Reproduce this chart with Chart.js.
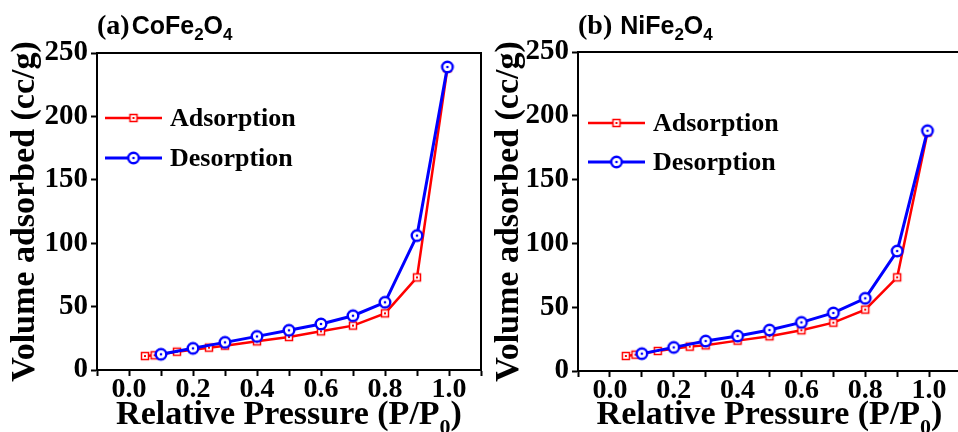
<!DOCTYPE html>
<html>
<head>
<meta charset="utf-8">
<script src="https://cdn.jsdelivr.net/npm/chart.js@4.4.1/dist/chart.umd.min.js"></script>
<style>
body { margin:0; width:958px; height:432px; overflow:hidden; background:#fff; position:relative; }
canvas { position:absolute; top:0; }
#chart1 { left:0; }
#chart2 { left:490px; }
</style>
</head>
<body>
<canvas id="chart1" width="490" height="432"></canvas>
<canvas id="chart2" width="480" height="432"></canvas>
<script>
// CoFe2O4 (a)
const pressureAdsCo = [0.05, 0.08, 0.15, 0.25, 0.3, 0.4, 0.5, 0.6, 0.7, 0.8, 0.9, 0.995];
const adsorptionCo  = [11.0, 11.6, 14.4, 17.6, 19.2, 22.6, 26.0, 30.5, 35.0, 44.7, 73.0, 238];
const pressureDesCo = [0.1, 0.2, 0.3, 0.4, 0.5, 0.6, 0.7, 0.8, 0.9, 0.995];
const desorptionCo  = [12.4, 17.1, 21.8, 26.5, 31.3, 36.3, 42.8, 53.4, 106, 239];

// NiFe2O4 (b)
const pressureAdsNi = [0.05, 0.08, 0.15, 0.25, 0.3, 0.4, 0.5, 0.6, 0.7, 0.8, 0.9, 0.995];
const adsorptionNi  = [11.8, 12.8, 15.7, 19.1, 20.1, 23.8, 27.2, 31.9, 37.9, 48.1, 73.4, 187];
const pressureDesNi = [0.1, 0.2, 0.3, 0.4, 0.5, 0.6, 0.7, 0.8, 0.9, 0.995];
const desorptionNi  = [13.6, 18.5, 23.5, 27.4, 32.1, 38.1, 45.5, 57.0, 94.0, 188.3];

const seriesNames = ['Adsorption', 'Desorption'];
const xTickLabels = [0, 0.2, 0.4, 0.6, 0.8, 1.0];
const yTickLabels = [0, 50, 100, 150, 200, 250];

const SERIF = '"Liberation Serif", "Times New Roman", serif';
const SANS = '"Liberation Sans", Arial, sans-serif';

Chart.defaults.font.family = SERIF;
Chart.defaults.font.weight = 'bold';
Chart.defaults.color = '#000';

function squareMarker(){
	const c = document.createElement('canvas');
	c.width = 12; c.height = 12;
	const g = c.getContext('2d');
	g.fillStyle = '#fff';
	g.fillRect(2.5, 2.5, 7, 7);
	g.strokeStyle = '#ff0000';
	g.lineWidth = 1.5;
	g.strokeRect(2.5, 2.5, 7, 7);
	g.fillStyle = '#ff0000';
	g.fillRect(5, 5, 2, 2);
	return c;
}

function circleMarker(){
	const c = document.createElement('canvas');
	c.width = 16; c.height = 16;
	const g = c.getContext('2d');
	g.beginPath();
	g.arc(8, 8, 5.3, 0, Math.PI * 2);
	g.fillStyle = '#fff';
	g.fill();
	g.strokeStyle = '#0000ff';
	g.lineWidth = 2.4;
	g.stroke();
	g.beginPath();
	g.arc(8, 8, 1.3, 0, Math.PI * 2);
	g.fillStyle = '#0000ff';
	g.fill();
	return c;
}

const redMark = squareMarker();
const blueMark = circleMarker();

function drawParts(ctx, parts, x, y, align){
	let w = 0;
	parts.forEach(p => { ctx.font = p.f; w += ctx.measureText(p.t).width + (p.gap || 0); });
	let cx = align == 'center' ? x - w / 2 : x;
	ctx.textAlign = 'left';
	ctx.textBaseline = 'alphabetic';
	ctx.fillStyle = '#000';
	parts.forEach(p => {
		cx += (p.gap || 0);
		ctx.font = p.f;
		ctx.fillText(p.t, cx, y + (p.dy || 0));
		cx += ctx.measureText(p.t).width;
	});
}

const xTitleParts = [
	{t: 'Relative Pressure (P/P', f: 'bold 34px ' + SERIF},
	{t: '0', f: 'bold 22px ' + SERIF, dy: 10},
	{t: ')', f: 'bold 34px ' + SERIF}
];

const panelDecor = {
	id: 'panelDecor',
	afterDraw(chart, args, opts){
		const ctx = chart.ctx, a = chart.chartArea;
		ctx.save();
		ctx.strokeStyle = '#000';
		ctx.lineWidth = 2;
		ctx.beginPath();
		ctx.moveTo(a.left, a.top);
		ctx.lineTo(a.right, a.top);
		ctx.lineTo(a.right, a.bottom);
		ctx.stroke();

		drawParts(ctx, opts.title, a.left, opts.titleY, 'left');
		drawParts(ctx, xTitleParts, (a.left + a.right) / 2, opts.xTitleY, 'center');

		chart.data.datasets.forEach((ds, i) => {
			const y = a.top + opts.legendY + i * opts.legendGap;
			const x0 = a.left + opts.legendX;
			ctx.strokeStyle = ds.borderColor;
			ctx.lineWidth = ds.borderWidth;
			ctx.beginPath();
			ctx.moveTo(x0, y);
			ctx.lineTo(x0 + 57, y);
			ctx.stroke();
			const img = ds.pointStyle;
			ctx.drawImage(img, x0 + 28.5 - img.width / 2, y - img.height / 2);
			ctx.fillStyle = '#000';
			ctx.font = 'bold 26px ' + SERIF;
			ctx.textBaseline = 'middle';
			ctx.textAlign = 'left';
			ctx.fillText(ds.label, x0 + 65, y + 1);
		});
		ctx.restore();
	}
};

function toPoints(xs, ys){
	return xs.map((x, i) => ({x: x, y: ys[i]}));
}

function createChart(id, adsX, adsY, desX, desY, cfg){
	return new Chart(document.getElementById(id), {
		type: 'line',
		data: {
			datasets: [{
				label: seriesNames[0],
				data: toPoints(adsX, adsY),
				borderColor: '#ff0000',
				borderWidth: 2.5,
				pointStyle: redMark,
				pointRadius: 5,
				order: 1
			}, {
				label: seriesNames[1],
				data: toPoints(desX, desY),
				borderColor: '#0000ff',
				borderWidth: 3,
				pointStyle: blueMark,
				pointRadius: 6,
				order: 0
			}]
		},
		options: {
			responsive: false,
			animation: false,
			events: [],
			layout: { padding: { top: cfg.top, right: 5, left: 0, bottom: 0 } },
			scales: {
				x: {
					type: 'linear',
					min: -0.1,
					max: 1.1,
					afterFit: s => { s.height = cfg.xAxisHeight; },
					ticks: {
						stepSize: 0.1,
						autoSkip: false,
						maxRotation: 0,
						padding: -3,
						font: { size: 28, weight: 'bold' },
						callback: v => xTickLabels.some(t => Math.abs(t - v) < 1e-6) ? v.toFixed(1) : ''
					},
					grid: { drawOnChartArea: false, tickLength: 6, tickWidth: 2, color: '#000' },
					border: { color: '#000', width: 2 }
				},
				y: {
					min: 0,
					max: 250,
					afterFit: s => { s.width = cfg.yAxisWidth; },
					ticks: {
						stepSize: 25,
						padding: 3,
						font: { size: 29, weight: 'bold' },
						callback: v => yTickLabels.includes(v) ? String(v) : ''
					},
					grid: { drawOnChartArea: false, tickLength: 6, tickWidth: 2, color: '#000' },
					border: { color: '#000', width: 2 },
					title: {
						display: true,
						text: 'Volume adsorbed (cc/g)',
						font: { size: 34, weight: 'bold' },
						padding: { top: cfg.yTitlePad, bottom: 0 }
					}
				}
			},
			plugins: {
				legend: { display: false },
				tooltip: { enabled: false },
				panelDecor: {
					title: cfg.title,
					titleY: 34,
					xTitleY: 424,
					legendX: cfg.legendX,
					legendY: cfg.legendY,
					legendGap: cfg.legendGap
				}
			}
		},
		plugins: [panelDecor]
	});
}

myChart1 = createChart('chart1', pressureAdsCo, adsorptionCo, pressureDesCo, desorptionCo, {
	top: 53, xAxisHeight: 62, yAxisWidth: 97, yTitlePad: 5,
	legendX: 8, legendY: 65, legendGap: 40,
	title: [
		{t: '(a)', f: 'bold 28px ' + SERIF},
		{t: 'CoFe', f: 'bold 25px ' + SANS, gap: 2},
		{t: '2', f: 'bold 17px ' + SANS, dy: 6},
		{t: 'O', f: 'bold 25px ' + SANS},
		{t: '4', f: 'bold 17px ' + SANS, dy: 6}
	]
});

myChart2 = createChart('chart2', pressureAdsNi, adsorptionNi, pressureDesNi, desorptionNi, {
	top: 52, xAxisHeight: 61, yAxisWidth: 88, yTitlePad: -1,
	legendX: 10, legendY: 71, legendGap: 39,
	title: [
		{t: '(b)', f: 'bold 28px ' + SERIF},
		{t: 'NiFe', f: 'bold 25px ' + SANS, gap: 8},
		{t: '2', f: 'bold 17px ' + SANS, dy: 6},
		{t: 'O', f: 'bold 25px ' + SANS},
		{t: '4', f: 'bold 17px ' + SANS, dy: 6}
	]
});
</script>
</body>
</html>
